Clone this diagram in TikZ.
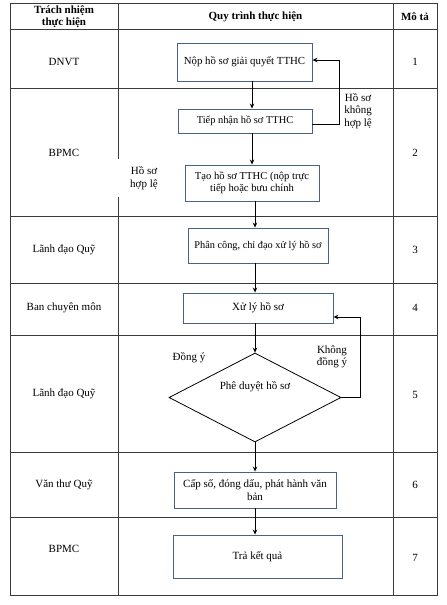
\documentclass[tikz,border=0pt]{standalone}
\usepackage{fontspec}
\setmainfont{Liberation Serif}
\usetikzlibrary{shapes.geometric,arrows.meta}
\definecolor{boxline}{HTML}{4A6282}
\definecolor{tabline}{HTML}{3A3A3A}
\begin{document}
\begin{tikzpicture}[x=1pt,y=-1pt,
  every node/.style={font=\fontsize{11}{12.5}\selectfont, inner sep=0pt},
  tab/.style={draw=tabline, line width=0.8pt},
  procbox/.style={draw=boxline, line width=0.9pt, fill=white, align=center},
  decbox/.style={diamond, draw=black, line width=0.8pt, minimum width=172pt, minimum height=89pt, inner sep=0pt},
  arr/.style={draw=black, line width=0.9pt, -{Stealth[length=5pt,width=4.5pt]}},
  hdr/.style={font=\fontsize{11}{12}\selectfont\bfseries, align=center},
  lbl/.style={align=center, fill=white}
]
\useasboundingbox (0,0) rectangle (447,605);
\fill[white] (0,0) rectangle (447,605);

% table
\draw[tab] (10,3) rectangle (437,595);
\draw[tab] (118,3) -- (118,595);
\draw[tab] (393,3) -- (393,595);
\foreach \yy in {29,88,216,283,335,452,517} {
  \draw[tab] (10,\yy) -- (437,\yy);
}

% header
\node[hdr] (h1) at (64,16.5) {Trách nhiệm\\thực hiện};
\node[hdr] (h2) at (255.5,17) {Quy trình thực hiện};
\node[hdr] (h3) at (415,17) {Mô tả};

% left column
\node (l1) at (64,62) {DNVT};
\node (l2) at (64,153) {BPMC};
\node (l3) at (64,250) {Lãnh đạo Quỹ};
\node (l4) at (64,308) {Ban chuyên môn};
\node (l5) at (64,394) {Lãnh đạo Quỹ};
\node (l6) at (64,485) {Văn thư Quỹ};
\node (l7) at (64,549) {BPMC};

% right column
\node (m1) at (415,62) {1};
\node (m2) at (415,153) {2};
\node (m3) at (415,250) {3};
\node (m4) at (415,308) {4};
\node (m5) at (415,395) {5};
\node (m6) at (415,485) {6};
\node (m7) at (415,558) {7};

% process boxes
\node[procbox, minimum width=135pt, minimum height=38pt, font=\fontsize{10.8}{12.5}\selectfont] (n1) at (244.5,62) {Nộp hồ sơ giải quyết TTHC};
\node[procbox, minimum width=134pt, minimum height=24pt, font=\fontsize{10.4}{12.5}\selectfont] (n2) at (245,121) {Tiếp nhận hồ sơ TTHC};
\node[procbox, minimum width=134pt, minimum height=36pt, font=\fontsize{10.6}{12.5}\selectfont] (n3) at (252,183) {Tạo hồ sơ TTHC (nộp trực\\tiếp hoặc bưu chính};
\node[procbox, minimum width=140pt, minimum height=35pt, font=\fontsize{10.3}{12}\selectfont] (n4) at (258,245.5) {Phân công, chỉ đạo xử lý hồ sơ};
\node[procbox, minimum width=150pt, minimum height=30pt] (n5) at (258,308) {Xử lý hồ sơ};
\node[decbox] (d) at (255,397.5) {};
\node (dt) at (255,387) {Phê duyệt hồ sơ};
\node[procbox, minimum width=162pt, minimum height=36pt] (n6) at (255,490) {Cấp số, đóng dấu, phát hành văn\\bản};
\node[procbox, minimum width=169pt, minimum height=43pt] (n7) at (257.5,556.5) {Trả kết quả};

% labels
\node[lbl] (k1) at (358,111) {Hồ sơ\\không\\hợp lệ};
\node[lbl, minimum width=56pt, minimum height=38pt] (k2) at (144,178) {Hồ sơ\\hợp lệ};
\node (k3) at (189,358) {Đồng ý};
\node[align=center] (k4) at (332,357) {Không\\đồng ý};

% connectors
\coordinate (c1) at (252,0);
\coordinate (c2) at (255,0);
\coordinate (r1) at (339,0);
\coordinate (r2) at (360,0);
\draw[arr] (n1.south -| c1) -- (n2.north -| c1);
\draw[arr] (n2.south -| c1) -- (n3.north -| c1);
\draw[arr] (n3.south -| c2) -- (n4.north -| c2);
\draw[arr] (n4.south -| c2) -- (n5.north -| c2);
\draw[arr] (n5.south -| c2) -- (d.north);
\draw[arr] (d.south) -- (n6.north -| c2);
\draw[arr] (n6.south -| c2) -- (n7.north -| c2);
\draw[arr] ([yshift=-3pt]n2.east) -- ([yshift=-3pt]n2.east -| r1) |- ([yshift=2pt]n1.east);
\coordinate (e5) at ([yshift=-9pt]n5.east);
\draw[arr] (d.east) -- (d.east -| r2) |- (e5);
\end{tikzpicture}
\end{document}
